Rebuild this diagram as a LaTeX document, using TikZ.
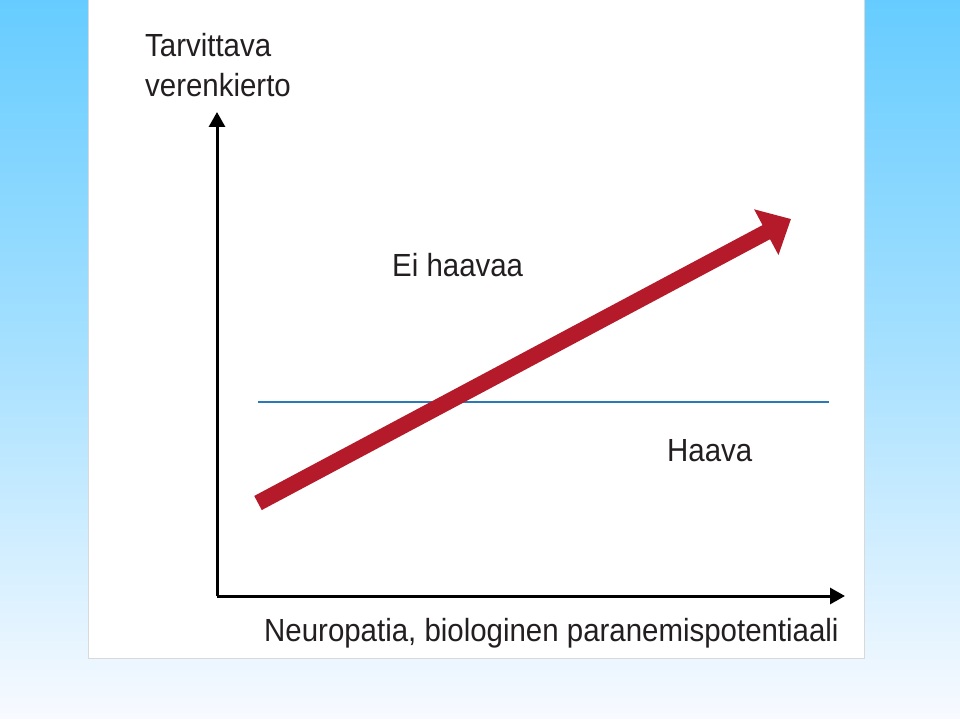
\documentclass[tikz,border=0pt]{standalone}
\usepackage{fontspec}
\setmainfont[FakeStretch=0.92]{Liberation Sans}
\usetikzlibrary{arrows.meta}
\definecolor{taustaylä}{RGB}{102,204,255}
\definecolor{taustaala}{RGB}{248,250,255}
\definecolor{nuolipuna}{RGB}{180,26,42}
\definecolor{rajasini}{RGB}{42,122,184}
\definecolor{teksti}{RGB}{35,31,32}
\tikzset{
  akseli/.style={line width=3pt, -{Triangle[length=15pt,width=16pt]}},
  selite/.style={anchor=base west, inner sep=0pt, text=teksti,
    font=\fontsize{32}{40}\selectfont, align=left}
}
\begin{document}
\begin{tikzpicture}[x=1pt,y=-1pt]
\useasboundingbox (0,0) rectangle (960,719);
\shade[top color=taustaylä, bottom color=taustaala, middle color=taustaylä!55!taustaala] (0,0) rectangle (960,719);
\draw[black!15, fill=white, line width=0.8pt] (88,-2) rectangle (864,658);
\coordinate (origo) at (217,596);
\coordinate (ykarki) at (217,112);
\coordinate (xkarki) at (845,596);
\coordinate (alku) at (258,503);
\coordinate (loppu) at (791,219);
\coordinate (rajaV) at (258,402);
\coordinate (rajaO) at (829,402);
\draw[rajasini, line width=2pt] (rajaV) -- (rajaO);
\draw[nuolipuna, line width=16pt, -{Triangle[length=28pt,width=50pt]}] (alku) -- (loppu);
\draw[akseli] (origo) -- (ykarki);
\draw[akseli] (origo) -- (xkarki);
\node[selite] (ylabel) at (145,97) {Tarvittava\\verenkierto};
\node[selite] (eihaavaa) at (392,276) {Ei haavaa};
\node[selite] (haava) at (667,461) {Haava};
\node[selite] (xlabel) at (264,641) {Neuropatia, biologinen paranemispotentiaali};
\end{tikzpicture}
\end{document}
